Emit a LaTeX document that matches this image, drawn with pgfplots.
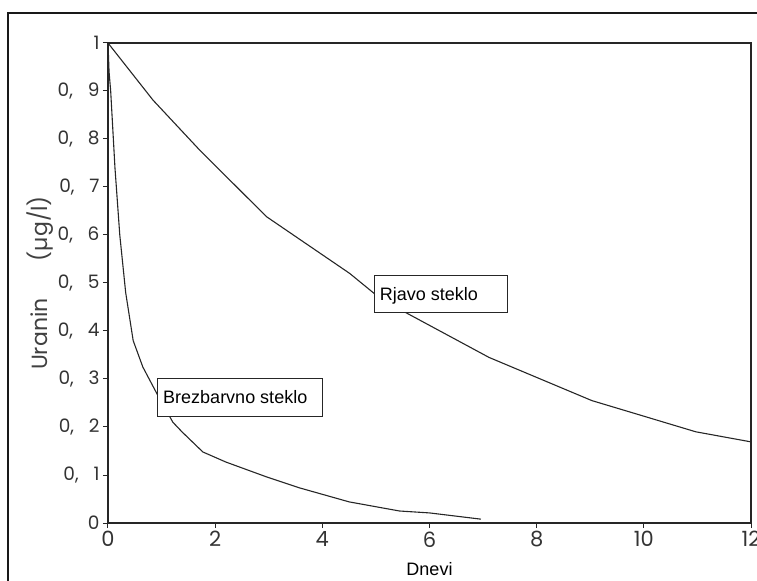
\documentclass[border=0pt]{standalone}
\usepackage{fontspec}
\setmainfont{Liberation Sans}
\newfontfamily\gfont{Poppins}
\usepackage{pgfplots}
\pgfplotsset{compat=1.18}

% y tick labels are written with a decimal comma and a gap
\newcommand\dc[1]{0,\hspace{0.8em}#1}

\begin{document}
\begin{tikzpicture}
\useasboundingbox (-108bp,-58bp) rectangle (649bp,523bp);
% outer frame
\draw[line width=2.5bp, black!90] (-100bp,-80bp) -- (-100bp,510bp) -- (680bp,510bp);
\begin{axis}[
  at={(0,0)}, anchor=south west,
  scale only axis, width=643bp, height=480bp,
  xmin=0, xmax=12, ymin=0, ymax=1,
  tick pos=left, tick align=outside,
  major tick length=5bp,
  /pgf/number format/assume math mode=true,
  xtick={0,2,4,6,8,10,12},
  ytick={0,0.1,0.2,0.3,0.4,0.5,0.6,0.7,0.8,0.9,1},
  yticklabels={0,\dc1,\dc2,\dc3,\dc4,\dc5,\dc6,\dc7,\dc8,\dc9,1},
  xticklabel style={font=\gfont\fontsize{21bp}{24bp}\selectfont, text=black!80},
  yticklabel style={font=\gfont\fontsize{18.5bp}{20bp}\selectfont, text=black!80},
  axis line style={line width=1.3bp, black!85},
  every tick/.style={line width=1bp, black!85},
  xlabel={Dnevi},
  xlabel style={at={(axis description cs:0.5,-0.1104)}, anchor=base,
    font=\fontsize{18bp}{20bp}\selectfont},
  ylabel={Uranin\hspace{1.7em}(µg/l)},
  ylabel style={at={(axis description cs:-0.1058,0.5)}, anchor=center,
    font=\gfont\fontsize{22bp}{24bp}\selectfont, text=black!75},
]
% colourless glass
\addplot[line width=1.1bp, black!85] coordinates {
  (0,1) (0.02,0.94) (0.05,0.90) (0.13,0.74) (0.22,0.60) (0.33,0.48)
  (0.47,0.38) (0.65,0.325) (0.91,0.27) (1.21,0.21) (1.38,0.19)
  (1.77,0.148) (2.2,0.127) (2.96,0.096) (3.58,0.073) (4.5,0.044)
  (5.44,0.025) (6.0,0.021) (6.96,0.008)
};
% brown glass
\addplot[line width=1.1bp, black!85] coordinates {
  (0,1) (0.84,0.881) (1.71,0.777) (2.96,0.638) (4.51,0.52) (4.97,0.478)
  (5.53,0.44) (7.11,0.345) (9.03,0.255) (10.97,0.19) (12,0.169)
};
% curve labels
\draw[draw=black!85, fill=white, line width=1bp] (axis cs:4.98,0.4375) rectangle (axis cs:7.45,0.515);
\node[anchor=base west, inner sep=0pt, font=\fontsize{18bp}{20bp}\selectfont]
  at (axis cs:5.07,0.4625) {Rjavo steklo};
\draw[draw=black!85, fill=white, line width=1bp] (axis cs:0.93,0.221) rectangle (axis cs:4.01,0.302);
\node[anchor=base west, inner sep=0pt, font=\fontsize{18bp}{20bp}\selectfont]
  at (axis cs:1.027,0.248) {Brezbarvno steklo};
\end{axis}
\end{tikzpicture}
\end{document}
